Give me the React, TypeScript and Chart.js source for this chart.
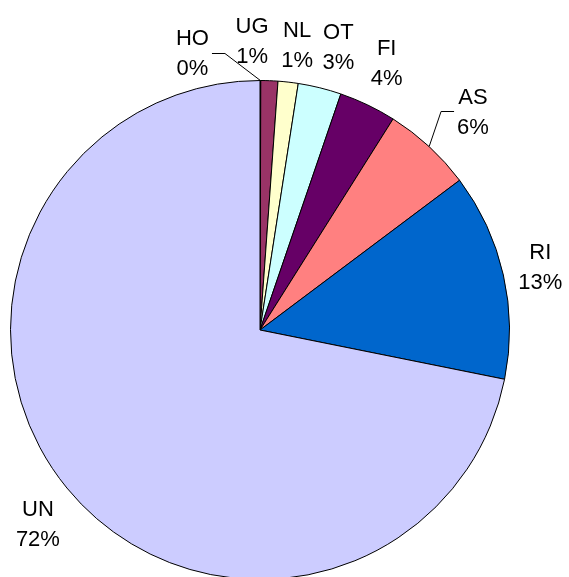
import React, { useEffect, useRef } from 'react';
import { Chart, registerables } from 'chart.js';

Chart.register(...registerables);

const categories = ['HO', 'UG', 'NL', 'OT', 'FI', 'AS', 'RI', 'UN'];
const shares = [0.05, 1.1, 1.3, 2.8, 3.7, 5.8, 13.4, 71.8];
const sliceColors = ['#000000', '#993366', '#FFFFCC', '#CCFFFF', '#660066', '#FF8080', '#0066CC', '#CCCCFF'];

// label nudges (px) relative to the radial anchor at outerRadius + 44
const labelNudge: Record<string, [number, number]> = {
  HO: [-68, 16],
  UG: [-19, 3],
  NL: [4, 6],
  OT: [8, 1],
  FI: [0, -3],
  AS: [14, -3],
  RI: [-6, 1],
  UN: [5, 7],
};
const withLeader = ['HO', 'AS'];

const labelPlugin = {
  id: 'pieLabels',
  afterDraw(chart: any) {
    const ctx = chart.ctx as CanvasRenderingContext2D;
    const meta = chart.getDatasetMeta(0);
    const data = chart.data.datasets[0].data as number[];
    const total = data.reduce((a, b) => a + b, 0);
    ctx.save();
    ctx.font = '22px "Liberation Sans", Arial, sans-serif';
    ctx.fillStyle = '#000';
    ctx.textAlign = 'center';
    ctx.textBaseline = 'alphabetic';
    meta.data.forEach((arc: any, i: number) => {
      const p = arc.getProps(['x', 'y', 'startAngle', 'endAngle', 'outerRadius'], true);
      const mid = (p.startAngle + p.endAngle) / 2;
      const d = p.outerRadius + 44;
      const name = chart.data.labels[i] as string;
      const [nx, ny] = labelNudge[name] || [0, 0];
      const cx = p.x + Math.cos(mid) * d + nx;
      const cy = p.y + Math.sin(mid) * d + ny;
      const pct = Math.round((data[i] / total) * 100) + '%';
      const cap = 7.9;
      ctx.fillText(name, cx, cy - 15 + cap);
      ctx.fillText(pct, cx, cy + 15 + cap);
      if (withLeader.includes(name)) {
        const w = Math.max(ctx.measureText(name).width, ctx.measureText(pct).width);
        const ex = p.x + Math.cos(mid) * p.outerRadius;
        const ey = p.y + Math.sin(mid) * p.outerRadius;
        const side = ex > cx ? 1 : -1;
        const sx = cx + side * (w / 2 + 3);
        const ly = Math.round(cy) + 0.5;
        ctx.beginPath();
        ctx.strokeStyle = '#000';
        ctx.lineWidth = 1;
        ctx.moveTo(sx, ly);
        ctx.lineTo(sx + side * 13, ly);
        ctx.lineTo(ex, ey);
        ctx.stroke();
      }
    });
    ctx.restore();
  },
};

export default function App() {
  const ref = useRef<HTMLCanvasElement>(null);
  useEffect(() => {
    document.body.style.margin = '0';
    document.body.style.overflow = 'hidden';
    const chart = new Chart(ref.current!, {
      type: 'pie',
      data: {
        labels: categories,
        datasets: [
          {
            data: shares,
            backgroundColor: sliceColors,
            borderColor: '#000000',
            borderWidth: 1,
          },
        ],
      },
      options: {
        responsive: false,
        animation: false,
        layout: { padding: { left: 10, right: 59, top: 80, bottom: 20 } },
        plugins: {
          legend: { display: false },
          tooltip: { enabled: false },
        },
      },
      plugins: [labelPlugin],
    });
    return () => chart.destroy();
  }, []);
  return (
    <div style={{ width: 569, height: 577, overflow: 'hidden', background: '#fff' }}>
      <canvas ref={ref} width={569} height={600} style={{ display: 'block' }} />
    </div>
  );
}
